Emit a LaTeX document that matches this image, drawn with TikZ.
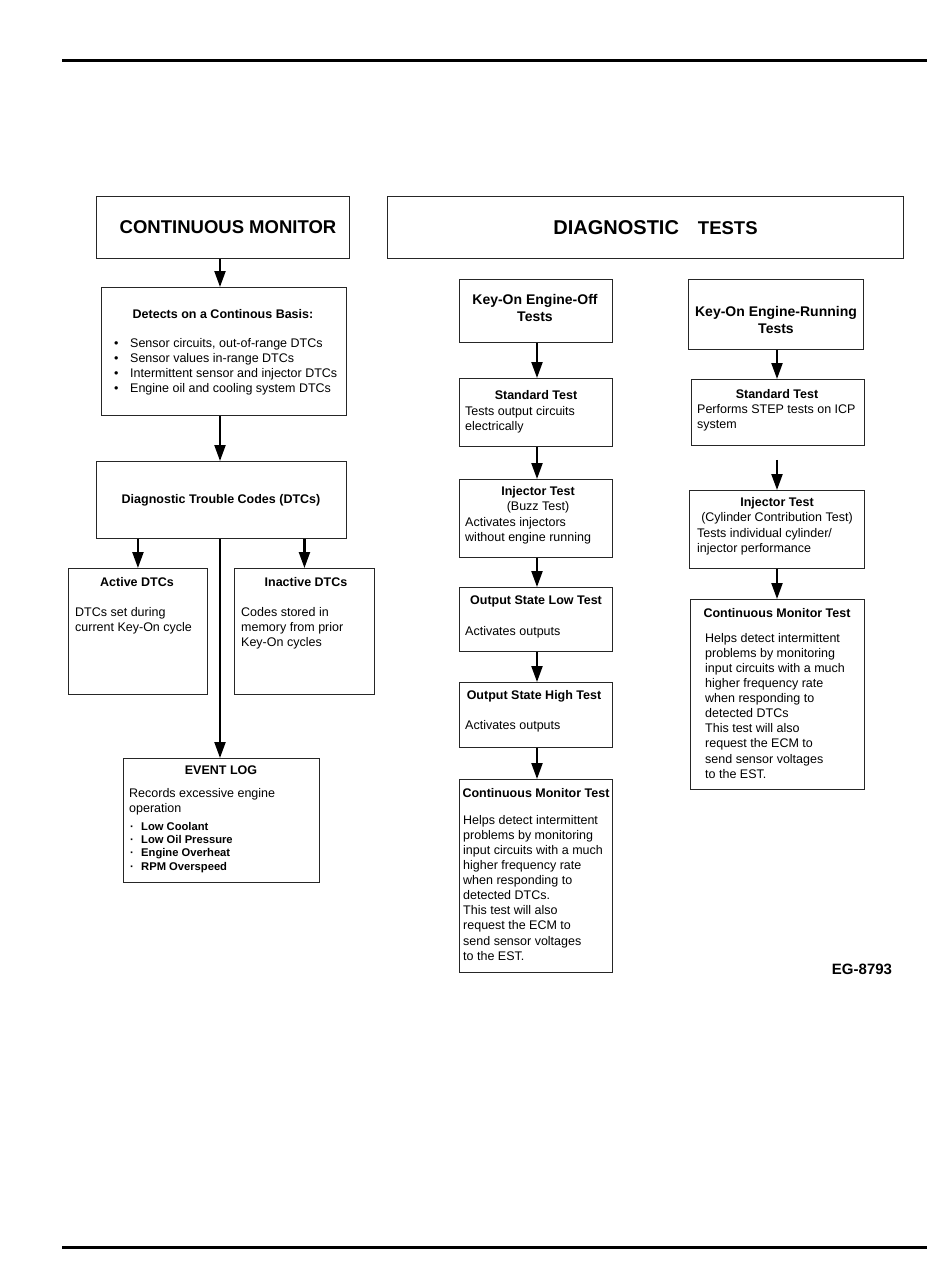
\documentclass[tikz,border=0pt]{standalone}
\usepackage{fontspec}
\setmainfont{Liberation Sans}
\usetikzlibrary{arrows.meta}
\begin{document}
\begin{tikzpicture}[x=1pt,y=-1pt,
  box/.style={draw=black!85, line width=0.9pt, inner sep=0, anchor=north west},
  arr/.style={line width=2.2pt, -{Triangle[width=11pt,length=16pt]}},
  tx/.style={anchor=north west, inner sep=0, align=left, font=\fontsize{12.5}{15}\selectfont},
  ttl/.style={anchor=center, inner sep=0, align=center, font=\bfseries\fontsize{12.5}{15}\selectfont},
  big/.style={anchor=center, inner sep=0, font=\bfseries\fontsize{18.5}{22}\selectfont},
  mid/.style={anchor=center, inner sep=0, align=center, font=\bfseries\fontsize{14}{17}\selectfont},
  rule/.style={line width=3pt}]
\useasboundingbox (0,0) rectangle (950,1266);
\draw[rule] (62,60) -- (927,60);
\draw[rule] (62,1247) -- (927,1247);

% ---------- left column ----------
\node[box, minimum width=253pt, minimum height=62pt] (cm) at (96,196) {};
\node[big] (cmT) at (228,227) {CONTINUOUS MONITOR};

\node[box, minimum width=245pt, minimum height=128pt] (det) at (101,287) {};
\node[ttl] (detT) at (223,314) {Detects on a Continous Basis:};
\node[tx] (detB) at (114,338) {\makebox[16pt][l]{\textbullet}Sensor circuits, out-of-range DTCs\\
\makebox[16pt][l]{\textbullet}Sensor values in-range DTCs\\
\makebox[16pt][l]{\textbullet}Intermittent sensor and injector DTCs\\
\makebox[16pt][l]{\textbullet}Engine oil and cooling system DTCs};

\node[box, minimum width=250pt, minimum height=77pt] (dtc) at (96,461) {};
\node[ttl] (dtcT) at (221,500) {Diagnostic Trouble Codes (DTCs)};

\node[box, minimum width=139pt, minimum height=126pt] (act) at (68,568) {};
\node[ttl] (actT) at (137,582) {Active DTCs};
\node[tx] (actB) at (75,607) {DTCs set during\\current Key-On cycle};

\node[box, minimum width=140pt, minimum height=126pt] (inact) at (234,568) {};
\node[ttl] (inactT) at (306,582) {Inactive DTCs};
\node[tx] (inactB) at (241,607) {Codes stored in\\memory from prior\\Key-On cycles};

\node[box, minimum width=196pt, minimum height=124pt] (ev) at (123,758) {};
\node[ttl] (evT) at (221,770) {EVENT LOG};
\node[tx] (evB) at (129,788) {Records excessive engine\\operation};
\node[tx, font=\bfseries\fontsize{11.2}{13.3}\selectfont] (evL) at (130,822) {\makebox[11pt][l]{·}Low Coolant\\
\makebox[11pt][l]{·}Low Oil Pressure\\
\makebox[11pt][l]{·}Engine Overheat\\
\makebox[11pt][l]{·}RPM Overspeed};

\draw[arr] (cm.south -| 220,0) -- (det.north -| 220,0);
\draw[arr] (det.south -| 220,0) -- (dtc.north -| 220,0);
\draw[arr] (act.north |- dtc.south) -- (act.north);
\draw[arr] (inact.north |- dtc.south) -- (inact.north);
\draw[arr] (dtc.south -| 220,0) -- (ev.north -| 220,0);

% ---------- diagnostic tests ----------
\node[box, minimum width=516pt, minimum height=62pt] (dt) at (387,196) {};
\node[anchor=center, inner sep=0, font=\bfseries] (dtT) at (655.5,228) {{\fontsize{20}{24}\selectfont DIAGNOSTIC}\hspace{19pt}{\fontsize{18.5}{22}\selectfont TESTS}};

% middle column
\node[box, minimum width=153pt, minimum height=63pt] (koeo) at (459,279) {};
\node[mid] (koeoT) at (535,308) {Key-On Engine-Off\\Tests};

\node[box, minimum width=153pt, minimum height=68pt] (mstd) at (459,378) {};
\node[ttl] (mstdT) at (536,395) {Standard Test};
\node[tx] (mstdB) at (465,406) {Tests output circuits\\electrically};

\node[box, minimum width=153pt, minimum height=78pt] (minj) at (459,479) {};
\node[ttl] (minjT) at (538,500) {Injector Test\\\mdseries(Buzz Test)};
\node[tx] (minjB) at (465,517) {Activates injectors\\without engine running};

\node[box, minimum width=153pt, minimum height=64pt] (osl) at (459,587) {};
\node[ttl] (oslT) at (536,601) {Output State Low Test};
\node[tx] (oslB) at (465,626) {Activates outputs};

\node[box, minimum width=153pt, minimum height=65pt] (osh) at (459,682) {};
\node[ttl] (oshT) at (534,696) {Output State High Test};
\node[tx] (oshB) at (465,720) {Activates outputs};

\node[box, minimum width=153pt, minimum height=193pt] (mcmt) at (459,779) {};
\node[ttl] (mcmtT) at (536,793) {Continuous Monitor Test};
\node[tx, font=\fontsize{12.5}{15.1}\selectfont] (mcmtB) at (463,815) {Helps detect intermittent\\problems by monitoring\\input circuits with a much\\higher frequency rate\\when responding to\\detected DTCs.\\This test will also\\request the ECM to\\send sensor voltages\\to the EST.};

\draw[arr] (koeo.south -| 537,0) -- (mstd.north -| 537,0);
\draw[arr] (mstd.south -| 537,0) -- (minj.north -| 537,0);
\draw[arr] (minj.south -| 537,0) -- (osl.north -| 537,0);
\draw[arr] (osl.south -| 537,0) -- (osh.north -| 537,0);
\draw[arr] (osh.south -| 537,0) -- (mcmt.north -| 537,0);

% right column
\node[box, minimum width=175pt, minimum height=70pt] (koer) at (688,279) {};
\node[mid] (koerT) at (776,320) {Key-On Engine-Running\\Tests};

\node[box, minimum width=173pt, minimum height=66pt] (rstd) at (691,379) {};
\node[ttl] (rstdT) at (777,394) {Standard Test};
\node[tx] (rstdB) at (697,404) {Performs STEP tests on ICP\\system};

\node[box, minimum width=175pt, minimum height=78pt] (rinj) at (689,490) {};
\node[ttl] (rinjT) at (777,511) {Injector Test\\\mdseries(Cylinder Contribution Test)};
\node[tx] (rinjB) at (697,528) {Tests individual cylinder/\\injector performance};

\node[box, minimum width=174pt, minimum height=190pt] (rcmt) at (690,599) {};
\node[ttl] (rcmtT) at (777,613) {Continuous Monitor Test};
\node[tx, font=\fontsize{12.5}{15.1}\selectfont] (rcmtB) at (705,633) {Helps detect intermittent\\problems by monitoring\\input circuits with a much\\higher frequency rate\\when responding to\\detected DTCs\\This test will also\\request the ECM to\\send sensor voltages\\to the EST.};

\draw[arr] (koer.south -| 777,0) -- (rstd.north -| 777,0);
\draw[arr, shorten <=14pt] (rstd.south -| 777,0) -- (rinj.north -| 777,0);
\draw[arr] (rinj.south -| 777,0) -- (rcmt.north -| 777,0);

\node[anchor=center, inner sep=0, font=\bfseries\fontsize{15}{17}\selectfont] (eg) at (862,969) {EG-8793};
\end{tikzpicture}
\end{document}
